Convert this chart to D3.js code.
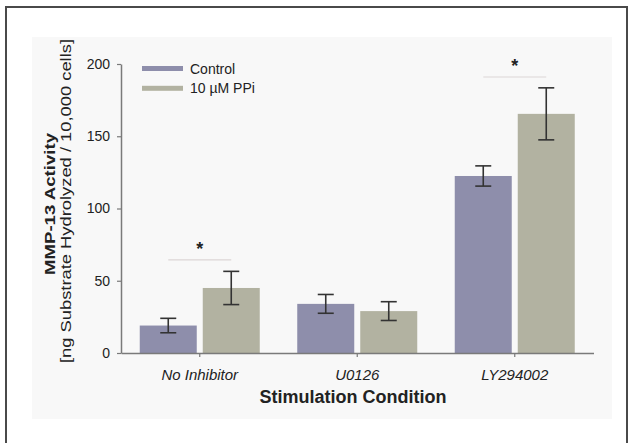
<!DOCTYPE html>
<meta charset="utf-8">
<script src="https://cdn.jsdelivr.net/npm/d3@7"></script>
<style>
	body{margin:0;background:#fff;font-family:"Liberation Sans",Arial,Helvetica,sans-serif;}
	svg text{fill:#222;}
</style>
<div id="chart"></div>
<script>
// data
var categories = ["No Inhibitor","U0126","LY294002"]
var series = ["Control","10 \u00b5M PPi"]
var controlMean = [19, 34, 122.5]
var controlErr = [5, 6.5, 7]
var ppiMean = [45, 29, 165.5]
var ppiErr = [11.5, 6.5, 18]
var yTicks = [0, 50, 100, 150, 200]
// significance brackets: category and height (data units)
var sigCategories = ["No Inhibitor","LY294002"]
var sigLevels = [64.5, 191]

var colors = ["#8e8eab","#b2b2a1"]

var width = 630
var height = 443

var svg = d3.select("#chart").append("svg")
	.attr("width",width)
	.attr("height",height)

// frame + light panel
svg.append("rect").attr("x",6).attr("y",7).attr("width",621).attr("height",460)
	.attr("fill","#fff").attr("stroke","#4a4a4a").attr("stroke-width",2)
svg.append("rect").attr("x",32).attr("y",37).attr("width",580).attr("height",382)
	.attr("fill","#f8f8f8")

var yScale = d3.scaleLinear().domain([0,200]).range([353,64])
var xScale = d3.scaleBand().domain(categories).range([121,593.5])
	.paddingInner(0.238).paddingOuter(0.119)
var xSub = d3.scaleBand().domain(series).range([0,xScale.bandwidth()]).paddingInner(0.095)

var rows = []
categories.forEach(function(c,i){
	rows.push({cat:c,s:series[0],v:controlMean[i],e:controlErr[i],col:colors[0]})
	rows.push({cat:c,s:series[1],v:ppiMean[i],e:ppiErr[i],col:colors[1]})
})

// bars
svg.append("g").selectAll("rect").data(rows).enter().append("rect")
	.attr("x",function(d){return xScale(d.cat)+xSub(d.s)})
	.attr("y",function(d){return yScale(d.v)})
	.attr("width",xSub.bandwidth())
	.attr("height",function(d){return yScale(0)-yScale(d.v)})
	.attr("fill",function(d){return d.col})

// error bars
var eb = svg.append("g").attr("stroke","#333").attr("stroke-width",1.6)
rows.forEach(function(d){
	var cx = xScale(d.cat)+xSub(d.s)+xSub.bandwidth()/2
	eb.append("line").attr("x1",cx).attr("x2",cx).attr("y1",yScale(d.v+d.e)).attr("y2",yScale(d.v-d.e))
	eb.append("line").attr("x1",cx-8).attr("x2",cx+8).attr("y1",yScale(d.v+d.e)).attr("y2",yScale(d.v+d.e))
	eb.append("line").attr("x1",cx-8).attr("x2",cx+8).attr("y1",yScale(d.v-d.e)).attr("y2",yScale(d.v-d.e))
})

// significance lines and stars
sigCategories.forEach(function(c,i){
	var x1 = xScale(c)+xSub(series[0])+xSub.bandwidth()/2
	var x2 = xScale(c)+xSub(series[1])+xSub.bandwidth()/2
	var yy = yScale(sigLevels[i])
	svg.append("line").attr("x1",x1).attr("x2",x2).attr("y1",yy).attr("y2",yy)
		.attr("stroke","#dcd6d6").attr("stroke-width",1.2)
	svg.append("text").attr("x",(x1+x2)/2).attr("y",yy-5)
		.attr("text-anchor","middle").style("font-size","18px").style("font-weight","bold")
		.text("*")
})

// axes
var yAxis = d3.axisLeft(yScale).tickValues(yTicks).tickSize(4).tickSizeOuter(0).tickPadding(7)
var xAxis = d3.axisBottom(xScale).tickSize(4).tickSizeOuter(0).tickPadding(12)

var gy = svg.append("g").attr("transform","translate(121,0)").call(yAxis)
var gx = svg.append("g").attr("transform","translate(0,353)").call(xAxis)
;[gy,gx].forEach(function(g){
	g.select(".domain").attr("stroke","#7a7a7a").attr("stroke-width",1.5)
	g.selectAll(".tick line").attr("stroke","#7a7a7a").attr("stroke-width",1.2)
	g.selectAll("text").attr("fill","#222").style("font-family","'Liberation Sans',Arial,sans-serif")
})
gy.selectAll("text").style("font-size","14px")
gx.selectAll("text").style("font-size","15px").style("font-style","italic")

// axis titles
svg.append("text").attr("x",353).attr("y",403).attr("text-anchor","middle")
	.style("font-size","18px").style("font-weight","bold").text("Stimulation Condition")

svg.append("text").attr("transform","translate(54.5,204) rotate(-90)").attr("text-anchor","middle")
	.style("font-size","15.5px").style("font-weight","bold")
	.attr("textLength",142).attr("lengthAdjust","spacingAndGlyphs")
	.text("MMP-13 Activity")
svg.append("text").attr("transform","translate(71,201) rotate(-90)").attr("text-anchor","middle")
	.style("font-size","15.5px")
	.attr("textLength",324).attr("lengthAdjust","spacingAndGlyphs")
	.text("[ng Substrate Hydrolyzed / 10,000 cells]")

// legend
var legY = [68.5, 88.3]
series.forEach(function(s,i){
	svg.append("rect").attr("x",142).attr("y",legY[i]-2.5).attr("width",41).attr("height",5).attr("fill",colors[i])
	svg.append("text").attr("x",190).attr("y",legY[i]+5).style("font-size","14px").text(s)
})
</script>
